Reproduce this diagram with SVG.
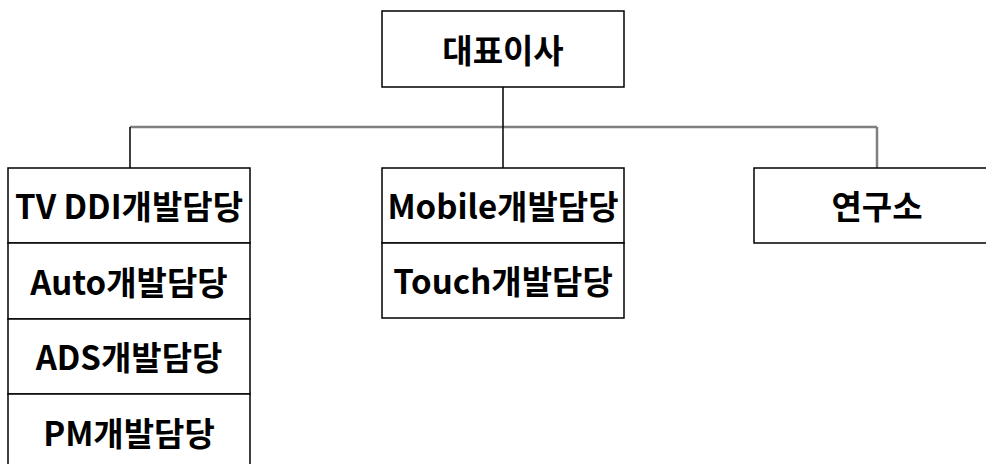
<svg xmlns="http://www.w3.org/2000/svg" width="986" height="464" viewBox="0 0 986 464">
<style>
.box{fill:#fff;stroke:#000;stroke-width:1.5}
.lbl{font-family:"Noto Sans CJK KR","Noto Sans",sans-serif;font-weight:bold;font-size:33px;fill:#000;text-anchor:middle}
.gl{stroke:#7f7f7f;stroke-width:2.5;fill:none}
.bl{stroke:#000;stroke-width:1.5;fill:none}
</style>
<rect width="986" height="464" fill="#fff"/>
<g id="connectors">
<path class="gl" d="M130,127 H877"/>
<path class="bl" d="M503,87 V168"/>
<path class="bl" d="M130,127 V168"/>
<path class="gl" d="M877,127 V168"/>
</g>
<g id="ceo"><rect class="box" x="382" y="11" width="242" height="76"/><text class="lbl" x="503" y="63">대표이사</text></g>
<g id="tvddi"><rect class="box" x="8" y="168" width="242" height="75"/><text class="lbl" x="129" y="219">TV DDI개발담당</text></g>
<g id="auto"><rect class="box" x="8" y="243" width="242" height="76"/><text class="lbl" x="129" y="295">Auto개발담당</text></g>
<g id="ads"><rect class="box" x="8" y="319" width="242" height="75"/><text class="lbl" x="129" y="370">ADS개발담당</text></g>
<g id="pm"><rect class="box" x="8" y="394" width="242" height="76"/><text class="lbl" x="129" y="446">PM개발담당</text></g>
<g id="mobile"><rect class="box" x="382" y="168" width="242" height="75"/><text class="lbl" x="503" y="219">Mobile개발담당</text></g>
<g id="touch"><rect class="box" x="382" y="243" width="242" height="75"/><text class="lbl" x="503" y="294">Touch개발담당</text></g>
<g id="lab"><rect class="box" x="754" y="168" width="250" height="75"/><text class="lbl" x="877" y="219">연구소</text></g>
</svg>
